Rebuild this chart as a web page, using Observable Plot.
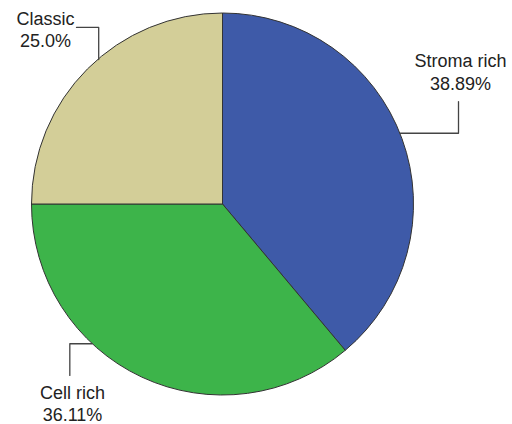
<!DOCTYPE html>
<html><head><meta charset="utf-8">
<script src="https://cdn.jsdelivr.net/npm/d3@7"></script>
<script src="https://cdn.jsdelivr.net/npm/@observablehq/plot@0.6"></script>
<style>body{margin:0;background:#fff}</style>
</head><body><div id="chart"></div>
<script>
// Data
const categories = ["Stroma rich", "Cell rich", "Classic"];
const percents = [38.89, 36.11, 25.0];
const percentLabels = ["38.89%", "36.11%", "25.0%"];
const colors = ["#3e5aa8", "#3db44a", "#d3ce98"];

// Annotation layout (data units of a unit circle, angles clockwise from top)
const layout = [
  {attach: 68.1, elbow: "h", ex: 1.233, ey: 0.539, tx: 1.243, ty: 0.6005},
  {attach: 223.2, elbow: "h", ex: -0.802, ey: -0.895, tx: -0.788, ty: -1.136},
  {attach: 319.4, elbow: "v", ex: -0.767, ey: 0.927, tx: -0.929, ty: 0.8236}
];

const table = categories.map((c, i) => ({category: c, value: percents[i], label: c + "\n" + percentLabels[i], color: colors[i], ...layout[i]}));

const leaders = [];
table.forEach((d, i) => {
  const a = d.attach * Math.PI / 180;
  const ax = Math.sin(a), ay = Math.cos(a);
  const elbow = d.elbow === "h" ? [d.ex, ay] : [ax, d.ey];
  leaders.push({k: i, x: ax, y: ay}, {k: i, x: elbow[0], y: elbow[1]}, {k: i, x: d.ex, y: d.ey});
});

const pie = d3.pie().sort(null).value(d => d.value).startAngle(0).endAngle(2 * Math.PI);

function pieMark(index, scales) {
  const cx = scales.x(0), cy = scales.y(0);
  const r = scales.x(1) - scales.x(0);
  const arc = d3.arc().innerRadius(0).outerRadius(r);
  const g = d3.create("svg:g").attr("transform", `translate(${cx},${cy})`);
  g.selectAll("path").data(pie(table)).join("path")
    .attr("d", arc)
    .attr("fill", d => d.data.color)
    .attr("stroke", "#333")
    .attr("stroke-width", 1)
    .attr("stroke-linejoin", "round");
  return g.node();
}

const chart = Plot.plot({
  width: 512,
  height: 424,
  marginLeft: 31.5,
  marginRight: 98.5,
  marginTop: 13,
  marginBottom: 29,
  x: {domain: [-1, 1], axis: null},
  y: {domain: [-1, 1], axis: null},
  style: {background: "#fff", fontFamily: "'Liberation Sans', Arial, sans-serif"},
  marks: [
    pieMark,
    Plot.line(leaders, {x: "x", y: "y", z: "k", stroke: "#444", strokeWidth: 1.3}),
    Plot.text(table, {x: "tx", y: "ty", text: "label", lineAnchor: "bottom", lineHeight: 1.26, fontSize: 18, fill: "#222", textAnchor: "middle"})
  ]
});
document.getElementById("chart").appendChild(chart);
</script>
</body></html>
